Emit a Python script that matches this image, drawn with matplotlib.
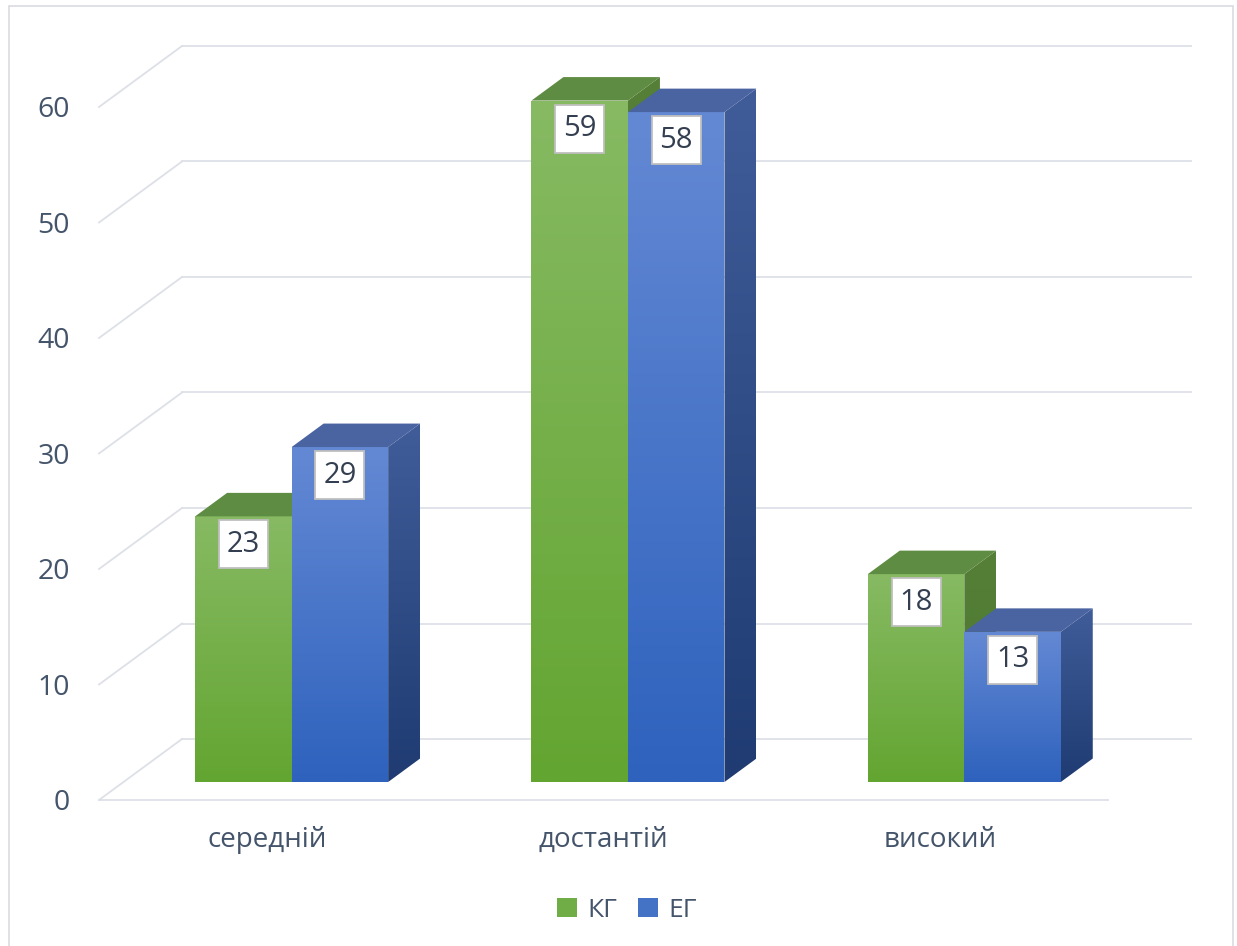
import numpy as np
import matplotlib
matplotlib.use("Agg")
import matplotlib.pyplot as plt
from matplotlib.patches import Polygon, Rectangle, Patch
from matplotlib.colors import LinearSegmentedColormap

# ---- data ----
categories = ["середній", "достантій", "високий"]
series_names = ["КГ", "ЕГ"]
kg = [23, 59, 18]
eg = [29, 58, 13]
yticks = [0, 10, 20, 30, 40, 50, 60]

# ---- layout (pixels) ----
W, H = 1237, 946
LEFT_PX, ZERO_PX = 99, 800          # front-left corner of the floor
CAT_PX, UNIT_PX = 336.33, 11.55     # px per category / per value unit
DX, DV = 83 / CAT_PX, 61 / UNIT_PX  # full depth of the oblique box
F0, F1 = 0.295, 0.68                # bar depth range (fraction of depth)
BW = 96.5 / CAT_PX                  # bar width in category units

TXT = "#44546A"
GRID = "#DDE0E7"
plt.rcParams["font.family"] = ["Open Sans", "DejaVu Sans"]

colors = [
    dict(ft="#87BA63", fb="#63A531", top="#5F8C43", st="#567F38", sb="#4A782C", solid="#70AD47"),
    dict(ft="#6489D4", fb="#2E62BD", top="#4A63A1", st="#405D9A", sb="#1F3B72", solid="#4472C4"),
]


def grad_poly(ax, verts, c_top, c_bot, z):
    poly = Polygon(verts, closed=True, facecolor="none", edgecolor="none", zorder=z)
    ax.add_patch(poly)
    xs, ys = zip(*verts)
    cmap = LinearSegmentedColormap.from_list("g", [c_bot, c_top])
    img = ax.imshow(np.linspace(0, 1, 256).reshape(-1, 1), cmap=cmap, origin="lower",
                    extent=(min(xs), max(xs), min(ys), max(ys)), aspect="auto",
                    interpolation="bilinear", zorder=z)
    img.set_clip_path(poly)


fig = plt.figure(figsize=(W / 100, H / 100), dpi=100)
ax = fig.add_axes([0, 0, 1, 1])
ax.axis("off")

x_front0 = -0.5
x_front1 = len(categories) - 0.5

# walls: diagonals + back gridlines
for v in yticks:
    ax.plot([x_front0, x_front0 + DX], [v, v + DV], color=GRID, lw=1.3, zorder=1)
    ax.plot([x_front0 + DX, x_front1 + DX], [v + DV, v + DV], color=GRID, lw=1.3, zorder=1)
ax.plot([x_front0, x_front1], [0, 0], color=GRID, lw=1.3, zorder=1)

# bars
z = 2.0
dx, dv = (F1 - F0) * DX, (F1 - F0) * DV
labels = []
for i in range(len(categories)):
    for j, vals in enumerate([kg, eg]):
        c = colors[j]
        v = vals[i]
        x0 = i - BW + j * BW + F0 * DX
        x1 = x0 + BW
        yb = F0 * DV
        yt = yb + v
        grad_poly(ax, [(x0, yb), (x1, yb), (x1, yt), (x0, yt)], c["ft"], c["fb"], z)
        grad_poly(ax, [(x1, yb), (x1 + dx, yb + dv), (x1 + dx, yt + dv), (x1, yt)], c["st"], c["sb"], z)
        ax.add_patch(Polygon([(x0, yt), (x1, yt), (x1 + dx, yt + dv), (x0 + dx, yt + dv)],
                             closed=True, facecolor=c["top"], edgecolor="none", zorder=z))
        z += 0.01
        labels.append(((x0 + x1) / 2, yt - 28 / UNIT_PX, v))

# value labels in boxes
bw, bh = 49 / CAT_PX, 48 / UNIT_PX
for xc, yc, v in labels:
    ax.add_patch(Rectangle((xc - bw / 2, yc - bh / 2), bw, bh, facecolor="white",
                           edgecolor="#BFBFBF", lw=1.3, zorder=5))
    ax.text(xc, yc, str(v), ha="center", va="center", fontsize=21, color="#333F50", zorder=6)

# y tick labels
for v in yticks:
    ax.text(x_front0 - 29 / CAT_PX, v - 0.3, str(v), ha="right", va="center",
            fontsize=20.5, color=TXT)

# category labels
for i, name in enumerate(categories):
    ax.text(i, -40 / UNIT_PX, name, ha="center", va="center", fontsize=20, color=TXT)

handles = [Patch(facecolor=c["solid"], edgecolor="none") for c in colors]
ax.legend(handles, series_names, loc="center", bbox_to_anchor=(627 / W, 1 - 910 / H),
          ncol=2, frameon=False, fontsize=19, labelcolor=TXT, handlelength=0.75,
          handleheight=0.75, handletextpad=0.4, columnspacing=0.8)

ax.set_xlim(x_front0 - LEFT_PX / CAT_PX, x_front0 + (W - LEFT_PX) / CAT_PX)
ax.set_ylim((ZERO_PX - H) / UNIT_PX, ZERO_PX / UNIT_PX)

fig.add_artist(Rectangle((9 / W, -0.01), (1233 - 9) / W, 1.01 - 6 / H,
                         transform=fig.transFigure, fill=False, ec="#D9DCE3", lw=1.2))

fig.savefig("out.png", dpi=100)
